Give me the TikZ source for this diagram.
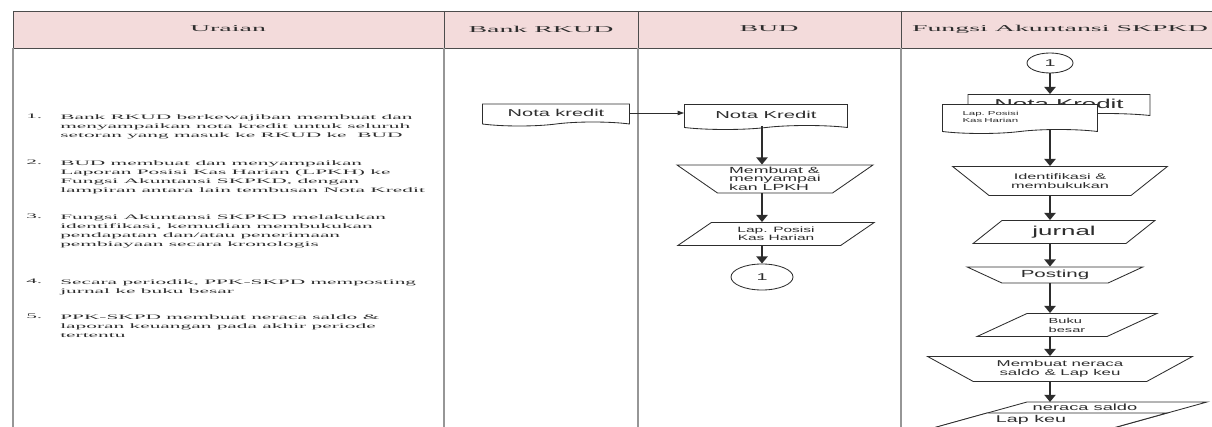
\documentclass[tikz,border=0pt]{standalone}
\usepackage{fontspec}
\newfontfamily\urfont{Liberation Serif}[FakeStretch=3.1]
\newfontfamily\chfont{Liberation Sans}[FakeStretch=2.0]
\usepackage{tikz}
\usetikzlibrary{arrows.meta,positioning,shapes.geometric,shapes.symbols,calc}

\definecolor{hdrpink}{RGB}{243,219,219}
\definecolor{lanegray}{RGB}{150,150,150}
\definecolor{inkgray}{RGB}{45,45,45}

\begin{document}
\begin{tikzpicture}[x=0.25mm, y=-0.25mm,
  hdr/.style={font=\urfont\fontsize{6.4}{7.5}\selectfont, text=inkgray, inner sep=0pt},
  ura/.style={font=\urfont\fontsize{4.9}{6.6}\selectfont, text=inkgray, align=left, inner sep=0pt, anchor=north west},
  lane/.style={draw=lanegray, line width=2pt},
  hline/.style={draw=black!70, line width=0.5pt},
  shp/.style={draw=inkgray, line width=0.6pt, fill=white, inner sep=1pt, text=inkgray, align=center},
  doc/.style={shp, tape, tape bend top=none, tape bend bottom=in and out, tape bend height=1mm},
  manop/.style={shp, trapezium, shape border rotate=180, trapezium stretches=true, trapezium angle=#1},
  data/.style={shp, trapezium, trapezium stretches=true},
  conn/.style={shp, ellipse, inner sep=0pt},
  arr/.style={-{Triangle[length=1.8mm,width=2.8mm]}, line width=1.6pt, draw=inkgray},
  thinarr/.style={-{Triangle[length=1.6mm,width=1.1mm]}, line width=0.5pt, draw=inkgray}
]
\useasboundingbox (0,0) rectangle (1212,427);
\clip (0,0) rectangle (1212,427);

% table
\fill[hdrpink] (13,11) rectangle (1212,48);
\draw[hline] (13,11) -- (1212,11);
\draw[hline] (13,48) -- (1212,48);
\foreach \lx in {13,444,638,901} {
  \draw[hline] (\lx,11) -- (\lx,48);
  \draw[lane] (\lx,48) -- (\lx,427);
}

\node[hdr] (hur) at (228,29) {Uraian};
\node[hdr] (hbank) at (541,29) {Bank RKUD};
\node[hdr] (hbud) at (769,29) {BUD};
\node[hdr] (hfa) at (1060,29) {Fungsi Akuntansi SKPKD};

% uraian
\node[ura] (n1) at (26,114) {1.};
\node[ura] (u1) at (60,114) {Bank RKUD berkewajiban membuat dan\\menyampaikan nota kredit untuk seluruh\\setoran yang masuk ke RKUD ke\ \ BUD};
\node[ura] (n2) at (26,160) {2.};
\node[ura] (u2) at (60,160) {BUD membuat dan menyampaikan\\Laporan Posisi Kas Harian (LPKH) ke\\Fungsi Akuntansi SKPKD, dengan\\lampiran antara lain tembusan Nota Kredit};
\node[ura] (n3) at (26,214) {3.};
\node[ura] (u3) at (60,214) {Fungsi Akuntansi SKPKD melakukan\\identifikasi, kemudian membukukan\\pendapatan dan/atau penerimaan\\pembiayaan secara kronologis};
\node[ura] (n4) at (26,279) {4.};
\node[ura] (u4) at (60,279) {Secara periodik, PPK-SKPD memposting\\jurnal ke buku besar};
\node[ura] (n5) at (26,314) {5.};
\node[ura] (u5) at (60,314) {PPK-SKPD membuat neraca saldo \&\\laporan keuangan pada akhir periode\\tertentu};

% bank rkud
\node[doc, minimum width=36.75mm, minimum height=5.5mm, font=\chfont\fontsize{7.1}{8}\selectfont] (nkr) at (556,113) {Nota kredit};

% bud
\node[doc, minimum width=40.75mm, minimum height=6.25mm, font=\chfont\fontsize{7.2}{8}\selectfont] (nkb) at (766,115) {Nota Kredit};
\node[manop=39, minimum width=49mm, minimum height=7mm, align=left, font=\chfont\fontsize{6.3}{5.6}\selectfont] (trb) at (775,179) {Membuat \&\\menyampai\\kan LPKH};
\node[data, trapezium left angle=39, trapezium right angle=141, minimum width=49.5mm, minimum height=5.75mm, font=\chfont\fontsize{5.5}{5.9}\selectfont] (lpb) at (776,234) {Lap. Posisi\\Kas Harian};
\node[conn, minimum width=15.5mm, minimum height=6.5mm, font=\chfont\fontsize{7}{8}\selectfont] (conn1) at (762,277) {1};

\draw[thinarr] (nkr.east) -- (nkr.east -| nkb.west);
\draw[arr] (nkb.south -| conn1) -- (trb.north -| conn1);
\draw[arr] (trb.south -| conn1) -- (lpb.north -| conn1);
\draw[arr] (lpb.south -| conn1) -- (conn1.north);

% fungsi akuntansi skpkd
\node[conn, minimum width=11.5mm, minimum height=5mm, font=\chfont\fontsize{7}{8}\selectfont] (circ2) at (1050,63) {1};
\node[doc, minimum width=45.5mm, minimum height=5.75mm, font=\chfont\fontsize{9.2}{10}\selectfont] (nkf) at (1059,104) {Nota Kredit};
\node[doc, minimum width=38.75mm, minimum height=7.25mm, inner xsep=5mm, text width=28.75mm, align=left, font=\chfont\fontsize{4.1}{4.6}\selectfont] (lpf) at (1020,117) {Lap. Posisi\\Kas Harian};
\node[manop=35, minimum width=53.75mm, minimum height=7.25mm, font=\chfont\fontsize{5.8}{6.6}\selectfont] (trf) at (1060,181) {Identifikasi \&\\membukukan};
\node[data, trapezium left angle=44, trapezium right angle=136, minimum width=45.5mm, minimum height=5.75mm, font=\chfont\fontsize{9.2}{10}\selectfont] (jurf) at (1064,232) {jurnal};
\node[manop=28, minimum width=44mm, minimum height=4mm, font=\chfont\fontsize{7.3}{8}\selectfont] (posf) at (1055,275) {Posting};
\node[data, trapezium left angle=35, trapezium right angle=145, minimum width=45.25mm, minimum height=5.75mm, align=left, font=\chfont\fontsize{5.2}{6.4}\selectfont] (bukf) at (1067,325) {Buku\\besar};
\node[manop=30, minimum width=66.25mm, minimum height=6.25mm, font=\chfont\fontsize{6.0}{6.4}\selectfont] (mbf) at (1060,369) {Membuat neraca\\saldo \& Lap keu};

% cut-off outputs at the bottom
\coordinate (nrctop) at (1050,402);
\draw[shp] (1027,402) -- (1207,402) -- (991,462) -- (811,462) -- cycle;
\draw[shp] (987,413) -- (1167,413) -- (951,473) -- (771,473) -- cycle;
\node[text=inkgray, font=\chfont\fontsize{6.5}{7}\selectfont, inner sep=0pt] (nrc) at (1085,407) {neraca saldo};
\node[text=inkgray, font=\chfont\fontsize{7}{8}\selectfont, inner sep=0pt] (lpk) at (1031,420) {Lap keu};

\draw[arr] (circ2.south) -- (nkf.north -| circ2);
\draw[arr] (lpf.south -| circ2) -- (trf.north -| circ2);
\draw[arr] (trf.south -| circ2) -- (jurf.north -| circ2);
\draw[arr] (jurf.south -| circ2) -- (posf.north -| circ2);
\draw[arr] (posf.south -| circ2) -- (bukf.north -| circ2);
\draw[arr] (bukf.south -| circ2) -- (mbf.north -| circ2);
\draw[arr] (mbf.south -| circ2) -- (nrctop);

\end{tikzpicture}
\end{document}
